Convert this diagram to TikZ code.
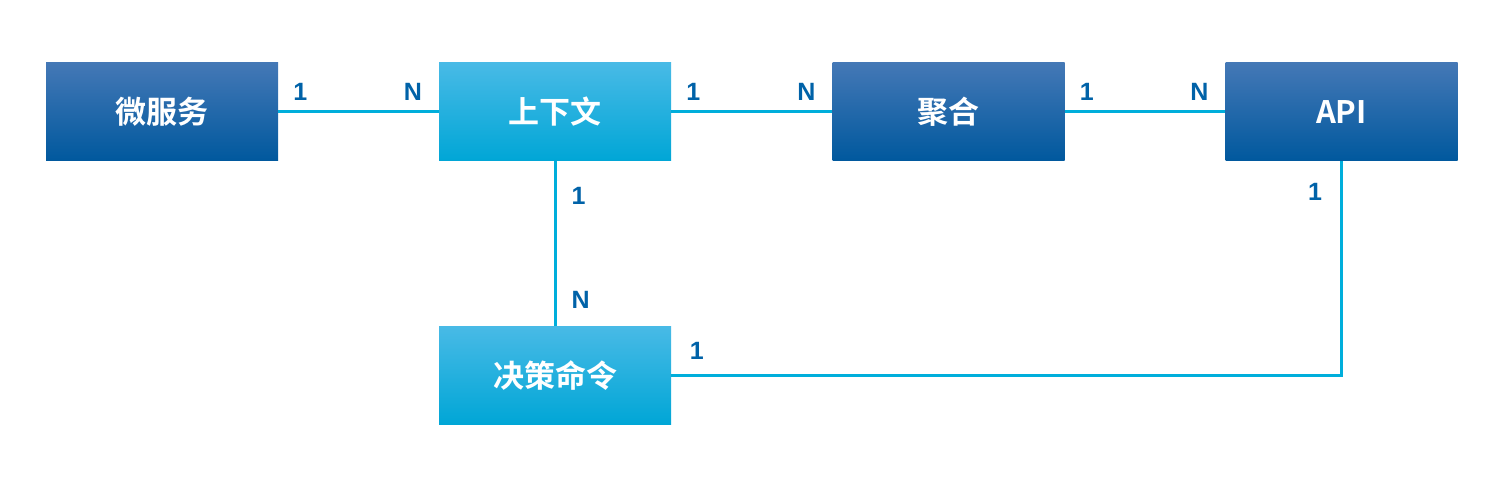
\documentclass[tikz,border=0pt]{standalone}
\usepackage{fontspec}
\setmainfont{Noto Sans CJK SC}[BoldFont={* Bold}]
\newfontfamily\lblfont{Liberation Sans}
\definecolor{darkblue}{HTML}{005DA6}
\definecolor{darktop}{HTML}{4478B6}
\definecolor{lightblue}{HTML}{00B1E1}
\definecolor{lighttop}{HTML}{48BAE6}
\definecolor{lightbot}{HTML}{00A6D6}
\definecolor{linkcol}{HTML}{00AEDB}
\definecolor{lblcol}{HTML}{0062A8}
\begin{document}
\begin{tikzpicture}[x=0.5pt, y=-0.5pt,
    darkbox/.style={minimum width=116pt, minimum height=49pt, inner sep=0pt,
        top color=darktop, middle color=darkblue, bottom color=darkblue!95!black,
        text=white, font=\fontsize{15.5}{15.5}\selectfont\bfseries},
    lightbox/.style={darkbox, top color=lighttop, middle color=lightblue, bottom color=lightbot},
    link/.style={draw=linkcol, line width=1.5pt},
    card/.style={text=lblcol, font=\lblfont\fontsize{12.5}{12.5}\selectfont\bfseries, inner sep=1pt}]
    \useasboundingbox (0,0) rectangle (1494,491);
    \node[darkbox] (ms) at (162,112) {微服务};
    \node[lightbox] (ctx) at (555,112) {上下文};
    \node[darkbox] (agg) at (948.5,112) {聚合};
    \node[darkbox] (api) at (1341.5,112) {API};
    \node[lightbox] (cmd) at (555,375.5) {决策命令};
    % relations
    \draw[link](ms)--node[card, pos=.137, above=4pt]{1} node[card, pos=.84, above=4pt]{N}(ctx);
    \draw[link](ctx)--node[card, pos=.137, above=4pt]{1} node[card, pos=.84, above=4pt]{N}(agg);
    \draw[link](agg)--node[card, pos=.137, above=4pt]{1} node[card, pos=.84, above=4pt]{N}(api);
    \draw[link](ctx)--node[card, pos=.21, right=6.5pt]{1} node[card, pos=.84, right=6.5pt]{N}(cmd);
    \draw[link](api)|-node[card, pos=.072, left=8pt]{1} node[card, pos=.981, above=6pt]{1}(cmd);
\end{tikzpicture}
\end{document}
